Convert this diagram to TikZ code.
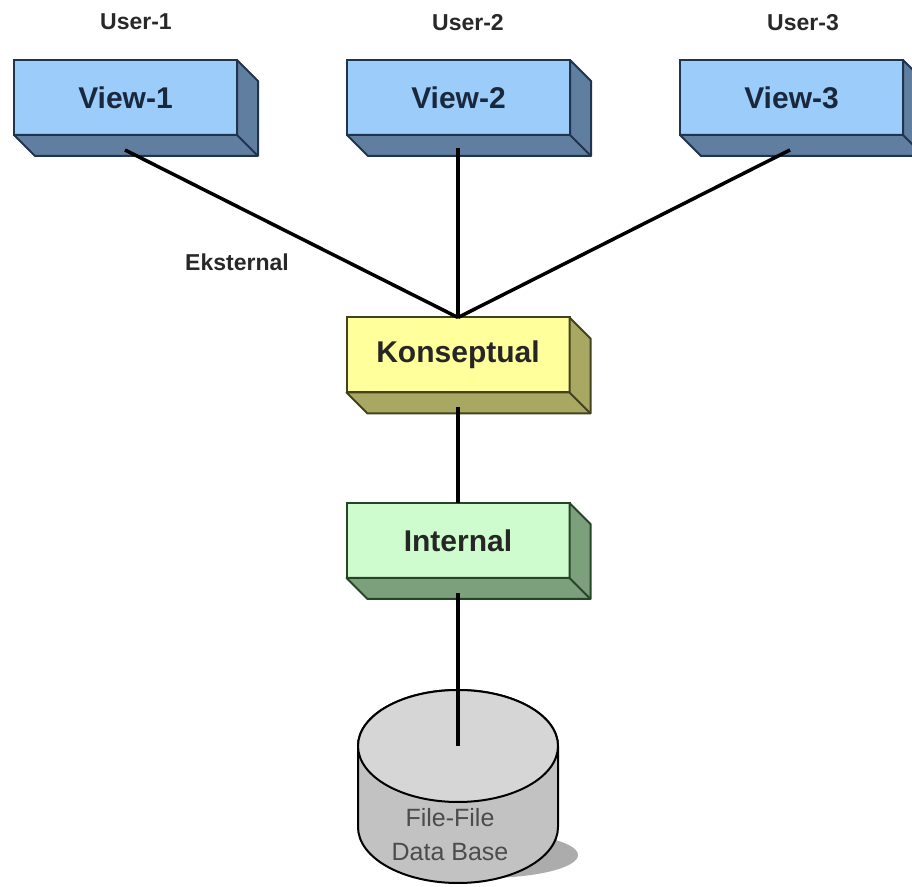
\documentclass[tikz,border=0pt]{standalone}
\usepackage{fontspec}
\setmainfont{Liberation Sans}
\usetikzlibrary{positioning}
\definecolor{viewfront}{RGB}{155,204,250}
\definecolor{viewside}{RGB}{96,126,160}
\definecolor{viewedge}{RGB}{32,52,78}
\definecolor{viewtxt}{RGB}{26,40,62}
\definecolor{konsfront}{RGB}{255,255,155}
\definecolor{konsside}{RGB}{168,168,98}
\definecolor{konsedge}{RGB}{66,66,30}
\definecolor{intfront}{RGB}{206,252,206}
\definecolor{intside}{RGB}{124,160,124}
\definecolor{intedge}{RGB}{40,68,40}
\definecolor{dbtop}{RGB}{214,214,214}
\definecolor{dbbody}{RGB}{194,194,194}
\definecolor{dbshadow}{RGB}{172,172,172}
\definecolor{usrtxt}{RGB}{40,40,40}
\newcommand{\slabdepth}{21pt}
\tikzset{
  slab/.style={rectangle,minimum width=223pt,minimum height=75pt,inner sep=0pt,
    outer sep=0pt,line width=2pt,font=\bfseries\fontsize{30}{36}\selectfont},
  viewbox/.style={slab,fill=viewfront,draw=viewedge,text=viewtxt},
  konsbox/.style={slab,fill=konsfront,draw=konsedge,text=black!85},
  intbox/.style={slab,fill=intfront,draw=intedge,text=black!85},
  usr/.style={font=\bfseries\fontsize{23}{28}\selectfont,text=usrtxt},
  link/.style={line width=3.5pt,black},
  dbline/.style={line width=2pt,black},
}

\begin{document}
\begin{tikzpicture}[x=1pt,y=1pt]
  \useasboundingbox (0,0) rectangle (912,886);
  % user labels
  \node[usr] (u1) at (136,864) {User-1};
  \node[usr] (u2) at (468,863) {User-2};
  \node[usr] (u3) at (803,863) {User-3};
  % the three views, conceptual and internal level
  \node[viewbox] (v1) at (125.5,788.5) {View-1};
  \node[viewbox] (v2) at (458.5,788.5) {View-2};
  \node[viewbox] (v3) at (791.5,788.5) {View-3};
  \node[konsbox] (kons) at (458,531) {Konseptual};
  \node[intbox] (int) at (458,345.5) {Internal};
  % extruded bottom and right faces
  \foreach \n/\s/\e in {v1/viewside/viewedge,v2/viewside/viewedge,v3/viewside/viewedge,
                        kons/konsside/konsedge,int/intside/intedge}{
    \draw[line width=2pt,draw=\e,fill=\s,line join=round]
      (\n.south west) -- ([shift={(\slabdepth,-\slabdepth)}]\n.south west)
      -- ([shift={(\slabdepth,-\slabdepth)}]\n.south east)
      -- ([shift={(\slabdepth,-\slabdepth)}]\n.north east)
      -- (\n.north east) -- (\n.south east) -- cycle;
    \draw[line width=2pt,draw=\e] (\n.south east)
      -- ([shift={(\slabdepth,-\slabdepth)}]\n.south east);
  }
  \node[font=\bfseries\fontsize{23}{28}\selectfont,text=usrtxt] (eks) at (237,624) {Eksternal};
  % data base cylinder
  \coordinate (db) at (458,140);
  \fill[dbshadow] (485,31) ellipse [x radius=93,y radius=23];
  \draw[dbline,fill=dbbody] (358,140) -- (358,59)
    arc[start angle=180,end angle=360,x radius=100,y radius=56]
    -- (558,140) arc[start angle=0,end angle=180,x radius=100,y radius=56] -- cycle;
  \draw[dbline,fill=dbtop] (db) ellipse [x radius=100,y radius=56];
  \node[font=\fontsize{25}{34}\selectfont,text=black!70,align=center] (dbtxt) at (450,51)
    {File-File\\Data Base};
  % connectors
  \draw[link] ([xshift=-0.5pt,yshift=-15pt]v1.south) -- (kons.north);
  \draw[link] ([xshift=-0.5pt,yshift=-13pt]v2.south) -- (kons.north);
  \draw[link] ([xshift=-1.5pt,yshift=-15pt]v3.south) -- (kons.north);
  \draw[link] ([yshift=-15pt]kons.south) -- (int.north);
  \draw[link] ([yshift=-15pt]int.south) -- (db);
\end{tikzpicture}
\end{document}
